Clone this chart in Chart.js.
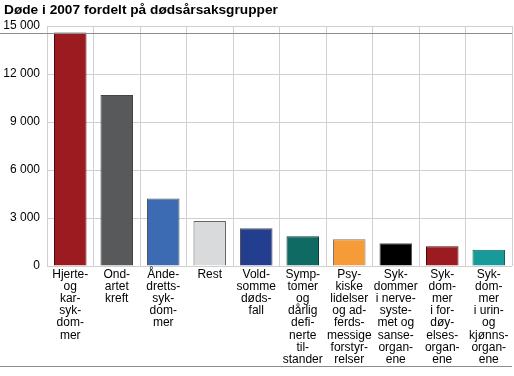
<!DOCTYPE html>
<html>
<head>
<meta charset="utf-8">
<script src="https://cdn.jsdelivr.net/npm/chart.js@4/dist/chart.umd.min.js"></script>
<style>
    body { margin: 0; background: #fff; font-family: "Liberation Sans", Arial, sans-serif; }
    #wrap { position: relative; width: 514px; height: 376px; }
    #title { position: absolute; left: 4px; top: 2px; font-size: 13.7px; font-weight: bold; color: #000; z-index: 3; }
    #box { position: absolute; left: 0; top: 0; width: 514px; height: 376px; }
</style>
</head>
<body>
<div id="wrap">
    <div id="title">Døde i 2007 fordelt på dødsårsaksgrupper</div>
    <div id="box"><canvas id="chart"></canvas></div>
</div>
<script>
// Kategorier (linjedelt som i originalen)
const categories = [
    ['Hjerte-', 'og', 'kar-', 'syk-', 'dom-', 'mer'],
    ['Ond-', 'artet', 'kreft'],
    ['Ånde-', 'dretts-', 'syk-', 'dom-', 'mer'],
    ['Rest'],
    ['Vold-', 'somme', 'døds-', 'fall'],
    ['Symp-', 'tomer', 'og', 'dårlig', 'defi-', 'nerte', 'til-', 'stander'],
    ['Psy-', 'kiske', 'lidelser', 'og ad-', 'ferds-', 'messige', 'forstyr-', 'relser'],
    ['Syk-', 'dommer', 'i nerve-', 'syste-', 'met og', 'sanse-', 'organ-', 'ene'],
    ['Syk-', 'dom-', 'mer', 'i for-', 'døy-', 'elses-', 'organ-', 'ene'],
    ['Syk-', 'dom-', 'mer', 'i urin-', 'og', 'kjønns-', 'organ-', 'ene'],
];

const deaths = [14600, 10690, 4220, 2820, 2370, 1870, 1670, 1420, 1240, 1020];

const yTicks = [0, 3000, 6000, 9000, 12000, 15000];

const barColors = ['#9b1b20', '#58595b', '#3d6bb3', '#d9dadb', '#233e8f', '#0f6a63', '#f59b38', '#000000', '#9b1b20', '#169b9a'];
const borderColors = ['#4a0c0e', '#444444', '#555555', '#666666', '#555555', '#0a3f3a', '#777777', '#555555', '#4a0c0e', '#1a5e5e'];

const fmt = (v) => String(v).replace(/\B(?=(\d{3})+(?!\d))/g, ' ');

// Grå linjer under tittel og nederst (canvas dekker hele siden)
const rules = {
    id: 'rules',
    afterDraw: (chart) => {
        const ctx = chart.ctx;
        ctx.save();
        ctx.fillStyle = '#8c8c8c';
        ctx.fillRect(0, 33, 512, 1);
        ctx.fillRect(0, 366, 512, 1);
        ctx.restore();
    },
};

new Chart(document.getElementById('chart'), {
    type: 'bar',
    data: {
        labels: categories,
        datasets: [{
            data: deaths,
            backgroundColor: barColors,
            borderColor: borderColors,
            borderWidth: 1,
            barPercentage: 0.7,
            categoryPercentage: 1,
        }],
    },
    plugins: [rules],
    options: {
        responsive: true,
        maintainAspectRatio: false,
        animation: false,
        layout: { padding: { top: 26, right: 2, left: 0, bottom: 8 } },
        plugins: { legend: { display: false }, tooltip: { enabled: false } },
        scales: {
            x: {
                grid: { color: '#d0d0d0', tickLength: 0, offset: true },
                border: { display: false },
                ticks: {
                    color: '#000',
                    font: { family: 'Liberation Sans', size: 12, lineHeight: 1.02 },
                    maxRotation: 0,
                    autoSkip: false,
                    padding: 2,
                },
            },
            y: {
                min: 0,
                max: 15000,
                afterBuildTicks: (s) => { s.ticks = yTicks.map((v) => ({ value: v })); },
                afterFit: (s) => { s.width = 47; },
                grid: { color: '#d0d0d0', tickLength: 0 },
                border: { display: false },
                ticks: {
                    color: '#000',
                    font: { family: 'Liberation Sans', size: 12 },
                    padding: 7,
                    callback: (v) => fmt(v),
                },
            },
        },
    },
});
</script>
</body>
</html>
